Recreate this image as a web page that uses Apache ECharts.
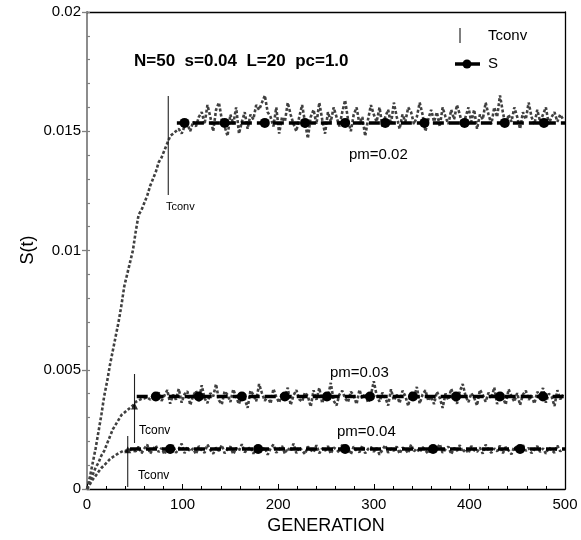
<!DOCTYPE html>
<html><head><meta charset="utf-8">
<script src="https://cdn.jsdelivr.net/npm/echarts@6/dist/echarts.min.js"></script>
<style>html,body{margin:0;padding:0;background:#fff}#c{width:581px;height:540px}</style>
</head><body><div id="c"></div>
<script>
// sampling step of generations for the noisy S(t) traces
const GEN_STEP = 3;
// S(t) values in units of 1e-5, sampled every GEN_STEP generations from 0
const pm02 = [0,50,110,170,240,310,390,450,520,580,
640,700,770,850,900,950,1000,1080,1150,1170,
1200,1230,1270,1300,1330,1370,1390,1420,1450,1480,
1490,1500,1510,1490,1520,1530,1500,1540,1520,1560,
1580,1530,1610,1560,1500,1590,1620,1550,1520,1480,1570,1530,1600,1490,1540,1580,1510,1570,1550,1610,
1590,1620,1650,1580,1560,1520,1600,1490,1560,1540,1620,1570,1530,1500,1560,1610,1540,1470,1560,1590,
1530,1620,1550,1490,1580,1540,1600,1560,1520,1580,1630,1550,1500,1570,1600,1530,1560,1480,1550,1610,
1570,1540,1600,1520,1560,1590,1530,1620,1560,1510,1570,1540,1600,1580,1530,1560,1620,1570,1500,1550,
1590,1540,1580,1520,1600,1560,1530,1590,1550,1610,1570,1520,1560,1600,1540,1590,1510,1570,1550,1620,
1570,1530,1600,1560,1650,1580,1520,1570,1540,1600,1560,1510,1580,1550,1620,1560,1530,1590,1540,1570,
1600,1530,1560,1580,1540,1570,1550];
const pm03 = [0,30,60,90,110,140,160,190,220,250,270,290,310,320,330,340,350,365,372,378,380,385,375,390,382,
405,370,392,415,358,396,375,420,362,398,410,352,390,412,368,435,380,360,402,388,440,372,355,410,395,365,418,385,356,400,
378,340,412,395,368,440,402,370,390,358,420,386,362,404,381,425,352,392,415,376,366,405,390,345,414,374,424,360,398,386,
445,370,350,396,412,380,364,408,392,356,416,378,400,362,394,452,392,366,404,384,350,418,372,396,360,412,390,348,406,380,428,358,396,414,370,
388,356,408,382,340,400,374,420,386,358,410,440,390,364,402,382,350,416,395,366,404,380,426,356,398,384,354,418,390,366,
402,352,396,412,374,392,358,408,386,424,362,400,388,348,414,376,396];
const pm04 = [0,20,40,55,72,88,100,112,125,134,142,150,156,162,158,166,160,
158,178,150,170,186,148,166,182,155,172,145,175,160,184,152,168,190,150,176,158,170,146,180,162,152,186,164,148,174,160,
184,150,168,178,146,172,160,188,154,166,176,148,182,162,156,174,144,170,186,152,
166,180,148,172,158,190,150,176,162,146,178,164,154,184,150,170,160,180,148,174,166,152,186,158,170,146,178,162,154,182,
150,168,176,156,172,144,164,184,152,170,160,178,148,174,166,150,186,158,170,154,
176,162,148,182,156,170,188,152,166,178,146,172,160,184,154,168,150,180,162,156,174,148,186,164,152,170,158,182,150,176,
162,146,178,168,154,184,160,172,150,166,180,156,170,148,174,164,152,182,158,168];
// Tconv markers: generation, low and high value of the vertical bar
const tconvGen = [85, 49.7, 42.6];
const tconvLow = [0.01233, 0.00193, 0.00008];
const tconvHigh = [0.01648, 0.00482, 0.00222];
// Tconv triangles on the curves
const triGen = [49.7, 42.6];
const triVal = [0.00348, 0.00165];
// S levels and their line extents / marker generations
const sLevels = [0.01535, 0.00388, 0.00168];
const sStart = [94, 52, 45];
const sEnd = 500;
const sMarks = [
  [102,144,186,228,270,312,353,395,437,478],
  [72,117,162,207,251,296,341,386,432,477],
  [87,179,270,362,453]
];
const xTicks = [0,100,200,300,400,500];
const yTicks = [0,0.005,0.01,0.015,0.02];

const FONT = '"Liberation Sans", Arial, Helvetica, sans-serif';
function toPairs(arr){ return arr.map((v,i)=>[i*GEN_STEP, v/1e5]); }
const noiseStyle = {color:'#404040', width:2.6, type:[3,2], cap:'butt'};
const series = [];
[pm02, pm03, pm04].forEach((arr,k)=>{
  series.push({type:'line', xAxisIndex:0, yAxisIndex:0, data: toPairs(arr), showSymbol:false, symbol:'none',
    lineStyle: noiseStyle, z:2, silent:true, animation:false});
});
sLevels.forEach((v,k)=>{
  const d = [{value:[sStart[k], v], symbol:'none'}];
  sMarks[k].forEach(g=>d.push({value:[g, v]}));
  d.push({value:[sEnd, v], symbol:'none'});
  series.push({type:'line', xAxisIndex:0, yAxisIndex:0, data:d, symbol:'circle', symbolSize:10, showAllSymbol:true,
    itemStyle:{color:'#000'}, lineStyle:{color:'#000', width:3.5, type:[11,5], cap:'butt'}, z:3, animation:false});
});
tconvGen.forEach((g,k)=>{
  series.push({type:'line', xAxisIndex:0, yAxisIndex:0, data:[[g,tconvLow[k]],[g,tconvHigh[k]]], symbol:'none',
    lineStyle:{color:'#222', width:1.1}, z:4, animation:false});
});
series.push({type:'scatter', xAxisIndex:0, yAxisIndex:0, data: triGen.map((g,i)=>[g,triVal[i]]), symbol:'triangle', symbolSize:7,
  itemStyle:{color:'#000'}, z:5, animation:false});

const chart = echarts.init(document.getElementById('c'), null, {renderer:'canvas'});
chart.setOption({
  animation:false,
  backgroundColor:'#fff',
  textStyle:{fontFamily:FONT},
  grid:{left:87, right:16, top:12, bottom:51, containLabel:false},
  xAxis:[
    {type:'value', min:0, max:500, interval:100, position:'bottom',
     name:'GENERATION', nameLocation:'middle', nameGap:27,
     nameTextStyle:{fontFamily:FONT, fontSize:18, color:'#000'},
     axisLine:{show:true, onZero:false, lineStyle:{color:'#000', width:1.3}},
     axisTick:{show:true, inside:true, length:5, lineStyle:{color:'#000', width:1}},
     minorTick:{show:true, splitNumber:5, length:3, lineStyle:{color:'#000', width:1}},
     axisLabel:{fontFamily:FONT, fontSize:15, color:'#000', margin:8},
     splitLine:{show:false}},
    {type:'value', min:0, max:500, position:'top', axisLine:{show:true, onZero:false, lineStyle:{color:'#000', width:1.3}},
     axisTick:{show:false}, axisLabel:{show:false}, splitLine:{show:false}}
  ],
  yAxis:[
    {type:'value', min:0, max:0.02, interval:0.005, position:'left',
     axisLine:{show:true, onZero:false, lineStyle:{color:'#808080', width:1.8}},
     axisTick:{show:true, inside:false, length:5, lineStyle:{color:'#808080', width:1.3}},
     axisLabel:{fontFamily:FONT, fontSize:15, color:'#000', margin:6,
       formatter:v=>{const t=yTicks.find(t=>Math.abs(t-v)<1e-9); return t===undefined?'':String(t);}},
     splitLine:{show:false}},
    {type:'value', min:0, max:0.02, interval:0.001, position:'left',
     axisLine:{show:false}, axisTick:{show:true, inside:true, length:3, lineStyle:{color:'#808080', width:1.2}},
     axisLabel:{show:false}, splitLine:{show:false}},
    {type:'value', min:0, max:0.02, position:'right', axisLine:{show:true, onZero:false, lineStyle:{color:'#000', width:1.3}},
     axisTick:{show:false}, axisLabel:{show:false}, splitLine:{show:false}}
  ],
  series: series,
  graphic:[
    {type:'text', x:28, y:250, rotation:Math.PI/2, style:{text:'S(t)', font:'18px '+FONT, fill:'#000', align:'center', verticalAlign:'middle'}},
    {type:'text', left:134, top:53, style:{text:'N=50  s=0.04  L=20  pc=1.0', font:'bold 17px '+FONT, fill:'#000'}},
    {type:'line', shape:{x1:460, y1:28, x2:460, y2:43}, style:{stroke:'#000', lineWidth:1}},
    {type:'text', left:488, top:28, style:{text:'Tconv', font:'15px '+FONT, fill:'#000'}},
    {type:'line', shape:{x1:455, y1:64, x2:480, y2:64}, style:{stroke:'#000', lineWidth:3.5}},
    {type:'circle', shape:{cx:467, cy:64, r:4.5}, style:{fill:'#000'}},
    {type:'text', left:488, top:56, style:{text:'S', font:'15px '+FONT, fill:'#000'}},
    {type:'text', left:349, top:147, style:{text:'pm=0.02', font:'15px '+FONT, fill:'#000'}},
    {type:'text', left:330, top:365, style:{text:'pm=0.03', font:'15px '+FONT, fill:'#000'}},
    {type:'text', left:337, top:424, style:{text:'pm=0.04', font:'15px '+FONT, fill:'#000'}},
    {type:'text', left:166, top:201, style:{text:'Tconv', font:'11px '+FONT, fill:'#000'}},
    {type:'text', left:139, top:425, style:{text:'Tconv', font:'12px '+FONT, fill:'#000'}},
    {type:'text', left:138, top:470, style:{text:'Tconv', font:'12px '+FONT, fill:'#000'}}
  ]
});
</script></body></html>
